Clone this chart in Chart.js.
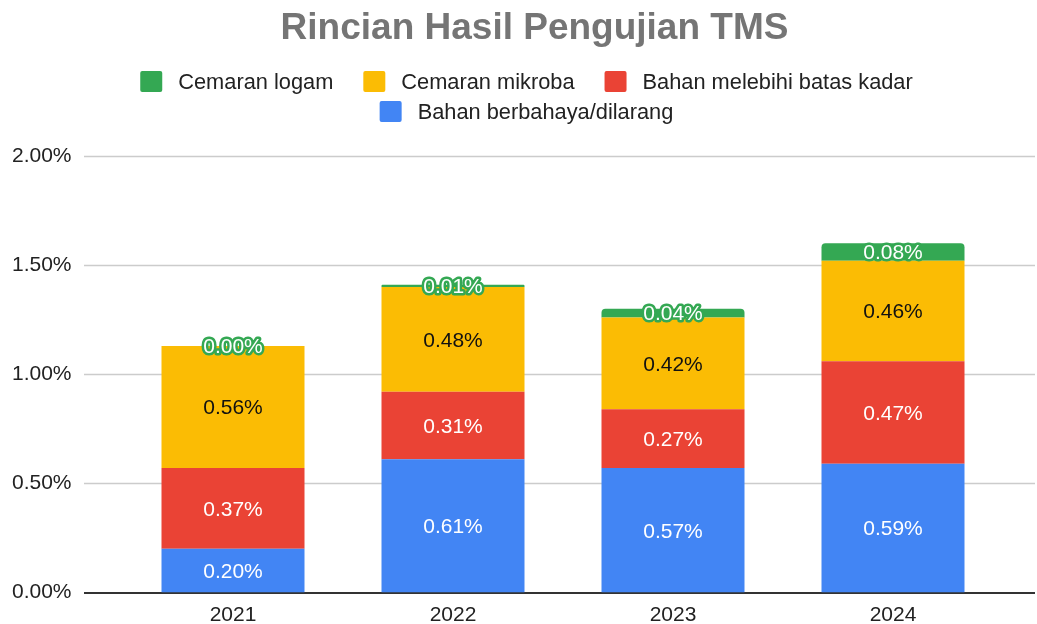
<!DOCTYPE html>
<html>
<head>
<meta charset="utf-8">
<script src="https://cdn.jsdelivr.net/npm/chart.js@4.4.1/dist/chart.umd.min.js"></script>
<style>
  html, body { margin: 0; padding: 0; background: #fff; }
  #wrap { width: 1037px; height: 624px; position: relative; }
</style>
</head>
<body>
<div id="wrap"><canvas id="chart"></canvas></div>
<script>
// data
const years = ["2021", "2022", "2023", "2024"];
const berbahaya = [0.20, 0.61, 0.57, 0.59];
const melebihi = [0.37, 0.31, 0.27, 0.47];
const mikroba = [0.56, 0.48, 0.42, 0.46];
const logam = [0.00, 0.01, 0.04, 0.08];
const yTickValues = [0, 0.5, 1, 1.5, 2];
const chartTitle = "Rincian Hasil Pengujian TMS";

const FONT = "'Liberation Sans', Arial, sans-serif";
const TEXT = "#222222";

// horizontal grid lines run wider than the bar area
const gridPlugin = {
  id: "gridLines",
  beforeDatasetsDraw(chart) {
    const ctx = chart.ctx;
    const y = chart.scales.y;
    ctx.save();
    y.ticks.forEach(t => {
      const py = Math.round(y.getPixelForValue(t.value));
      ctx.beginPath();
      if (t.value === 0) {
        ctx.strokeStyle = "#333333";
        ctx.lineWidth = 2;
        ctx.moveTo(84, py);
        ctx.lineTo(1035, py);
      } else {
        ctx.strokeStyle = "#cccccc";
        ctx.lineWidth = 1.4;
        ctx.moveTo(84, py + 0.5);
        ctx.lineTo(1035, py + 0.5);
      }
      ctx.stroke();
    });
    ctx.restore();
  }
};

// value labels centred in every segment
const labelPlugin = {
  id: "segLabels",
  afterDatasetsDraw(chart) {
    const ctx = chart.ctx;
    ctx.save();
    ctx.font = "21px " + FONT;
    ctx.textAlign = "center";
    ctx.textBaseline = "middle";
    chart.data.datasets.forEach((ds, i) => {
      const meta = chart.getDatasetMeta(i);
      meta.data.forEach((bar, j) => {
        const txt = ds.data[j].toFixed(2) + "%";
        const cy = (bar.y + bar.base) / 2 + 1.5;
        if (ds.labelStyle === "outline") {
          ctx.lineJoin = "round";
          ctx.lineWidth = 5;
          ctx.strokeStyle = ds.backgroundColor;
          ctx.strokeText(txt, bar.x, cy);
          ctx.fillStyle = "#ffffff";
        } else {
          ctx.fillStyle = ds.labelColor;
        }
        ctx.fillText(txt, bar.x, cy);
      });
    });
    ctx.restore();
  }
};

// title and legend drawn by hand to match placement of the original
const headerPlugin = {
  id: "header",
  afterDraw(chart) {
    const ctx = chart.ctx;
    ctx.save();
    ctx.textBaseline = "middle";
    ctx.textAlign = "center";
    ctx.fillStyle = "#757575";
    ctx.font = "bold 37px " + FONT;
    ctx.fillText(chartTitle, 534.5, 29);

    ctx.textAlign = "left";
    ctx.font = "21.8px " + FONT;
    const items = chart.data.datasets.slice().reverse().map(ds => ({
      label: ds.label,
      color: ds.backgroundColor,
      w: 38 + ctx.measureText(ds.label).width
    }));
    const rows = [[]];
    let rowW = 0;
    items.forEach(it => {
      const add = (rows[rows.length - 1].length ? 30 : 0) + it.w;
      if (rowW + add > 980) {
        rows.push([it]);
        rowW = it.w;
      } else {
        rows[rows.length - 1].push(it);
        rowW += add;
      }
    });
    rows.forEach((row, r) => {
      const total = row.reduce((s, it) => s + it.w, 0) + 30 * (row.length - 1);
      let x = 526.5 - total / 2;
      const cy = 81.5 + r * 30;
      row.forEach(it => {
        ctx.fillStyle = it.color;
        ctx.beginPath();
        ctx.roundRect(x, cy - 10.5, 22, 21, 2);
        ctx.fill();
        ctx.fillStyle = TEXT;
        ctx.fillText(it.label, x + 38, cy + 1);
        x += it.w + 30;
      });
    });
    ctx.restore();
  }
};

new Chart(document.getElementById("chart"), {
  type: "bar",
  data: {
    labels: years,
    datasets: [
      { label: "Bahan berbahaya/dilarang", data: berbahaya, backgroundColor: "#4285f4", labelColor: "#ffffff" },
      { label: "Bahan melebihi batas kadar", data: melebihi, backgroundColor: "#ea4335", labelColor: "#ffffff" },
      { label: "Cemaran mikroba", data: mikroba, backgroundColor: "#fbbc04", labelColor: "#111111" },
      { label: "Cemaran logam", data: logam, backgroundColor: "#34a853", labelStyle: "outline",
        borderRadius: { topLeft: 4, topRight: 4, bottomLeft: 0, bottomRight: 0 }, borderSkipped: "bottom" }
    ]
  },
  options: {
    responsive: true,
    maintainAspectRatio: false,
    animation: false,
    datasets: {
      bar: { barPercentage: 0.65, categoryPercentage: 1 }
    },
    layout: { padding: { left: 12, right: 34, top: 156, bottom: 0 } },
    plugins: {
      legend: { display: false },
      tooltip: { enabled: false },
      title: { display: false }
    },
    scales: {
      x: {
        stacked: true,
        grid: { display: false, drawTicks: false },
        border: { display: false },
        ticks: { color: TEXT, font: { family: FONT, size: 21 }, padding: 10 },
        afterFit(s) { s.height = 31.5; }
      },
      y: {
        stacked: true,
        min: 0,
        max: 2,
        afterBuildTicks(s) { s.ticks = yTickValues.map(v => ({ value: v })); },
        grid: { display: false, drawTicks: false },
        border: { display: false },
        ticks: {
          color: TEXT,
          font: { family: FONT, size: 21 },
          padding: 0,
          crossAlign: "far",
          callback: v => v.toFixed(2) + "%"
        },
        afterFit(s) { s.width = 111; }
      }
    }
  },
  plugins: [gridPlugin, labelPlugin, headerPlugin]
});
</script>
</body>
</html>
